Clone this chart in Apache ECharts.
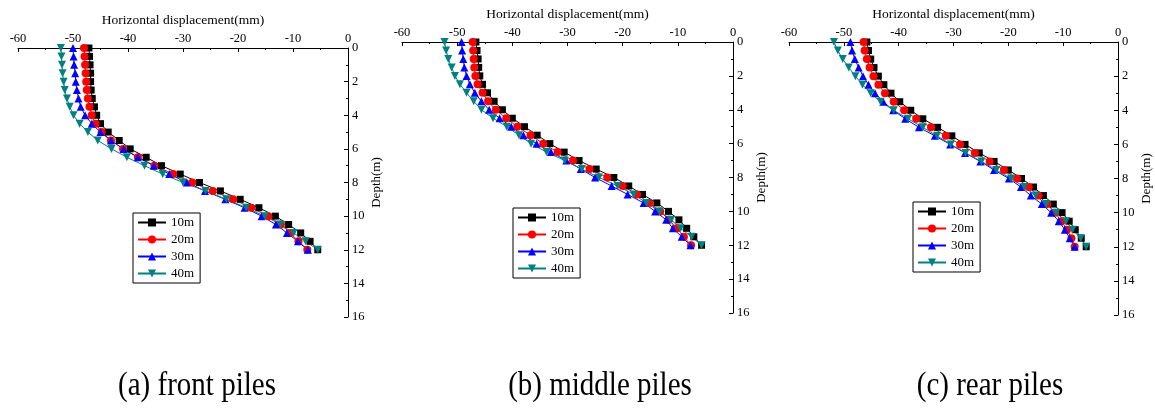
<!DOCTYPE html>
<html>
<head>
<meta charset="utf-8">
<script src="https://cdn.jsdelivr.net/npm/echarts@6/dist/echarts.min.js"></script>
<style>
  html, body { margin: 0; padding: 0; background: #fff; }
  #chart { width: 1155px; height: 409px; }
</style>
</head>
<body>
<div id="chart"></div>
<script>
// depth of each point along the pile (m)
var depth = [0, 0.5, 1, 1.5, 2, 2.5, 3, 3.5, 4, 4.5, 5, 5.5, 6, 6.5, 7, 7.5, 8, 8.5, 9, 9.5, 10, 10.5, 11, 11.5, 12]
var names = ['10m', '20m', '30m', '40m']
var captions = ['(a) front piles', '(b) middle piles', '(c) rear piles']

// horizontal displacement (mm), front piles
var front10 = [-47.1, -47.0, -46.9, -46.8, -46.8, -46.7, -46.5, -46.1, -45.7, -45.0, -43.6, -41.6, -39.6, -36.7, -33.9, -30.5, -27.0, -23.2, -19.6, -16.2, -13.2, -10.8, -8.6, -6.9, -5.5]
var front20 = [-48.0, -47.9, -47.8, -47.7, -47.6, -47.5, -47.3, -47.0, -46.6, -45.9, -44.8, -43.1, -40.9, -38.2, -35.2, -31.8, -28.3, -24.6, -20.9, -17.6, -14.5, -12.2, -10.5, -9.0, -7.4]
var front30 = [-50.0, -49.9, -49.8, -49.6, -49.5, -49.3, -49.0, -48.6, -47.8, -46.6, -45.0, -43.1, -40.8, -38.2, -35.3, -32.5, -29.3, -26.0, -22.3, -18.8, -15.7, -13.1, -11.1, -9.1, -7.3]
var front40 = [-52.2, -52.1, -52.0, -51.9, -51.7, -51.5, -51.1, -50.6, -49.9, -48.8, -47.3, -45.5, -43.0, -40.2, -37.0, -33.7, -30.0, -25.9, -22.1, -18.5, -15.1, -12.3, -9.9, -7.7, -5.5]

// middle piles
var middle10 = [-46.6, -46.4, -46.2, -46.1, -45.9, -45.4, -44.5, -43.3, -41.8, -40.0, -37.8, -35.5, -33.2, -30.6, -27.9, -24.8, -21.6, -18.9, -16.4, -13.8, -11.7, -9.8, -8.4, -7.1, -5.7]
var middle20 = [-47.2, -47.1, -47.0, -46.9, -46.7, -46.3, -45.4, -44.4, -43.0, -41.1, -39.1, -36.7, -34.4, -31.8, -29.0, -26.0, -22.8, -20.0, -17.4, -15.2, -13.2, -11.6, -10.2, -8.9, -7.6]
var middle30 = [-49.2, -49.1, -48.9, -48.7, -48.3, -47.7, -46.8, -45.6, -44.2, -42.3, -40.2, -38.0, -35.6, -33.0, -30.2, -27.6, -25.0, -22.0, -19.1, -16.2, -14.1, -12.1, -10.9, -9.3, -7.7]
var middle40 = [-52.3, -52.0, -51.6, -51.0, -50.4, -49.5, -48.3, -47.0, -45.6, -43.5, -41.0, -38.8, -36.6, -33.8, -30.5, -27.4, -24.3, -20.9, -18.0, -15.7, -13.3, -11.2, -9.5, -7.5, -5.7]

// rear piles
var rear10 = [-45.8, -45.5, -45.1, -44.5, -43.7, -42.7, -41.4, -39.8, -37.8, -35.6, -32.9, -30.3, -27.9, -25.3, -22.6, -20.0, -17.6, -15.4, -13.6, -11.8, -10.2, -8.9, -7.8, -6.7, -5.8]
var rear20 = [-46.4, -46.2, -45.8, -45.3, -44.6, -43.7, -42.5, -40.9, -39.0, -36.8, -34.1, -31.4, -28.8, -26.1, -23.4, -20.8, -18.4, -16.3, -14.5, -12.9, -11.5, -10.3, -9.3, -8.5, -7.9]
var rear30 = [-48.8, -48.5, -48.0, -47.3, -46.5, -45.5, -44.3, -42.8, -41.0, -38.8, -36.3, -33.4, -30.6, -27.9, -25.1, -22.6, -19.9, -17.7, -15.9, -13.9, -12.2, -10.8, -9.7, -8.8, -7.9]
var rear40 = [-51.8, -51.1, -50.2, -49.1, -47.9, -46.6, -45.1, -43.3, -40.9, -38.3, -35.6, -33.0, -30.5, -27.8, -24.9, -22.2, -19.5, -17.1, -15.0, -13.1, -11.3, -9.5, -8.3, -6.8, -5.8]

var panelData = [
  [front10, front20, front30, front40],
  [middle10, middle20, middle30, middle40],
  [rear10, rear20, rear30, rear40]
]

var font = "'Times New Roman', 'Liberation Serif', serif"
var colors = ['#000000', '#ff0000', '#0000ff', '#008080']
var symbols = ['rect', 'circle', 'triangle', 'triangle']
var symbolRotates = [0, 0, 0, 180]
var symbolSizes = [7, 8, 8, 8]

// layout of each panel
var grids = [
  { left: 18, top: 48, width: 330, height: 269 },
  { left: 402, top: 42, width: 331, height: 271 },
  { left: 789, top: 42, width: 329, height: 273 }
]
var xNameGaps = [18, 20, 20]
var legendPos = [
  { left: 133, top: 213 },
  { left: 513, top: 208 },
  { left: 913, top: 202 }
]
var captionX = [197, 600, 990]

var Chart = echarts.init(document.getElementById('chart'))

var xAxes = [], yAxes = [], series = [], legends = [], graphics = []
grids.forEach(function (g, i) {
  xAxes.push({
    gridIndex: i,
    type: 'value',
    position: 'top',
    min: -60,
    max: 0,
    interval: 10,
    name: 'Horizontal displacement(mm)',
    nameLocation: 'middle',
    nameGap: xNameGaps[i],
    nameTextStyle: { fontFamily: font, fontSize: 13.5, color: '#000' },
    axisLine: { show: true, onZero: false, lineStyle: { color: '#000', width: 1 } },
    axisTick: { show: true, inside: true, length: 4, lineStyle: { color: '#000' } },
    minorTick: { show: true, splitNumber: 2, length: 2, lineStyle: { color: '#000' } },
    axisLabel: { fontFamily: font, fontSize: 12.5, color: '#000', margin: 3 },
    splitLine: { show: false }
  })
  yAxes.push({
    gridIndex: i,
    type: 'value',
    position: 'right',
    inverse: true,
    min: 0,
    max: 16,
    interval: 2,
    name: 'Depth(m)',
    nameLocation: 'middle',
    nameRotate: 90,
    nameGap: 22,
    nameTextStyle: { fontFamily: font, fontSize: 13, color: '#000' },
    axisLine: { show: true, onZero: false, lineStyle: { color: '#000', width: 1 } },
    axisTick: { show: true, inside: true, length: 4, lineStyle: { color: '#000' } },
    minorTick: { show: true, splitNumber: 2, length: 2, lineStyle: { color: '#000' } },
    axisLabel: { fontFamily: font, fontSize: 12.5, color: '#000', margin: 4 },
    splitLine: { show: false }
  })
  panelData[i].forEach(function (vals, k) {
    series.push({
      name: names[k],
      type: 'line',
      xAxisIndex: i,
      yAxisIndex: i,
      data: depth.map(function (d, j) { return [vals[j], d] }),
      symbol: symbols[k],
      symbolRotate: symbolRotates[k],
      symbolSize: symbolSizes[k],
      showAllSymbol: true,
      color: colors[k],
      lineStyle: { color: colors[k], width: 1 },
      itemStyle: { color: colors[k] },
      animation: false
    })
  })
  legends.push({
    orient: 'vertical',
    left: legendPos[i].left,
    top: legendPos[i].top,
    data: names,
    borderColor: '#000',
    borderWidth: 1,
    borderRadius: 0,
    padding: [3, 6, 3, 4],
    itemWidth: 28,
    itemHeight: 10,
    itemGap: 4,
    textStyle: { fontFamily: font, fontSize: 13, color: '#000' }
  })
  graphics.push({
    type: 'text',
    x: captionX[i],
    y: 386,
    scaleY: 1.15,
    style: {
      text: captions[i],
      fill: '#000',
      font: "29px 'Times New Roman', 'Liberation Serif', serif",
      textAlign: 'center',
      textVerticalAlign: 'middle'
    }
  })
})

var option = {
  backgroundColor: '#fff',
  animation: false,
  grid: grids,
  xAxis: xAxes,
  yAxis: yAxes,
  legend: legends,
  series: series,
  graphic: graphics
}
Chart.setOption(option)
</script>
</body>
</html>
